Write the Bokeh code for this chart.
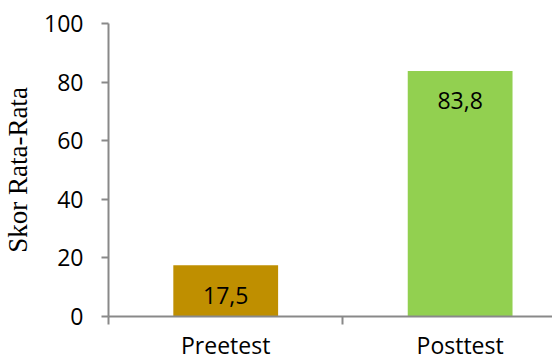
from bokeh.plotting import figure
from bokeh.models import ColumnDataSource, FixedTicker, Range1d
from bokeh.core.properties import value
from bokeh.embed import file_html
from bokeh.resources import INLINE

categories = ["Preetest", "Posttest"]
scores = [17.5, 83.8]
score_labels = ["17,5", "83,8"]
bar_colors = ["#BF8F00", "#92D050"]
y_ticks = [0, 20, 40, 60, 80, 100]

xpos = [i + 0.5 for i in range(len(categories))]
source = ColumnDataSource(dict(x=xpos, top=scores, label=score_labels, color=bar_colors))

p = figure(width=552, height=363, output_backend="svg", toolbar_location=None,
           x_range=Range1d(0, 1.894), y_range=Range1d(0, 100),
           min_border_left=0, min_border_right=0, min_border_top=23, min_border_bottom=46)
p.outline_line_color = None
p.grid.visible = False
p.background_fill_color = "white"
p.border_fill_color = "white"

p.vbar(x="x", top="top", width=0.447, bottom=0, color="color", line_color=None, source=source)
p.text(x="x", y="top", text="label", source=source, y_offset=30,
       text_align="center", text_baseline="middle",
       text_font=value("Open Sans"), text_font_size="23px", text_color="black")

# x axis
xa = p.xaxis[0]
xa.ticker = FixedTicker(ticks=xpos, minor_ticks=list(range(len(categories) + 1)))
xa.major_label_overrides = {x: c for x, c in zip(xpos, categories)}
xa.major_tick_out = 0
xa.major_tick_in = 0
xa.minor_tick_out = 8
xa.minor_tick_in = 0
xa.minor_tick_line_color = "#898989"
xa.minor_tick_line_width = 2
xa.axis_line_color = "#898989"
xa.axis_line_width = 2
xa.major_label_text_font = "Open Sans"
xa.major_label_text_font_size = "23px"
xa.major_label_text_color = "black"
xa.major_label_standoff = 4

# y axis
ya = p.yaxis[0]
ya.ticker = FixedTicker(ticks=y_ticks)
ya.minor_tick_line_color = None
ya.major_tick_out = 7
ya.major_tick_in = 0
ya.major_tick_line_color = "#898989"
ya.major_tick_line_width = 2
ya.axis_line_color = "#898989"
ya.axis_line_width = 2
ya.major_label_text_font = "Open Sans"
ya.major_label_text_font_size = "23px"
ya.major_label_text_color = "black"
ya.major_label_standoff = 18
ya.axis_label = "Skor Rata-Rata"
ya.axis_label_text_font = "Liberation Serif"
ya.axis_label_text_font_size = "27px"
ya.axis_label_text_font_style = "normal"
ya.axis_label_text_color = "black"
ya.axis_label_standoff = 8

open("out.html", "w").write(file_html(p, INLINE))
